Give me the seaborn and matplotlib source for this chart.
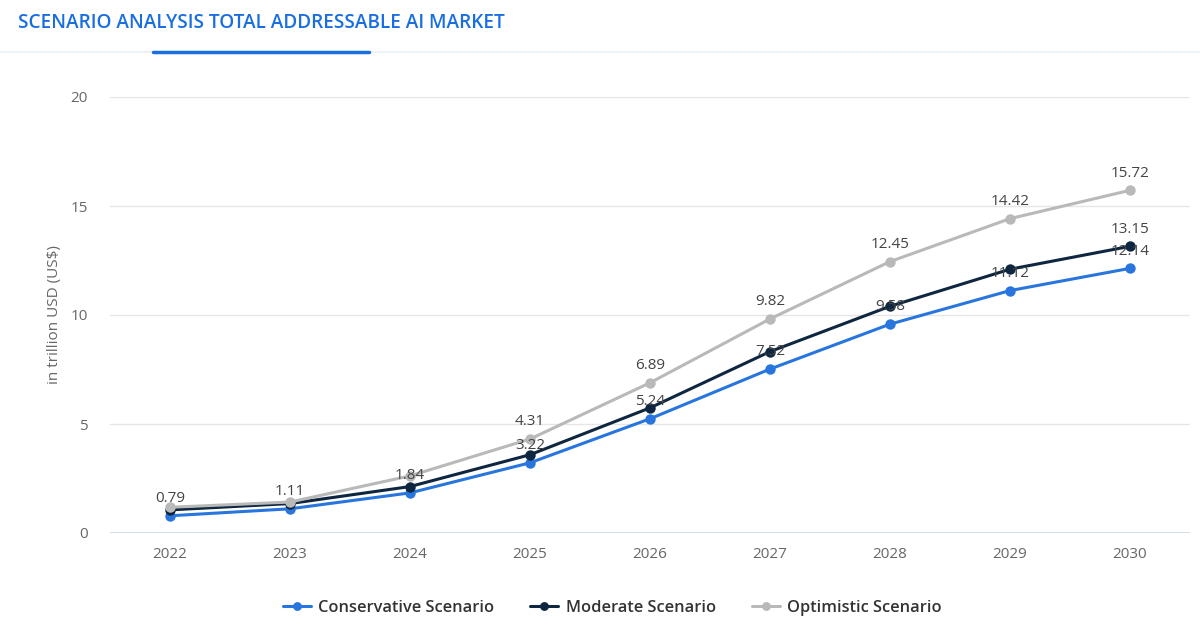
import seaborn as sns
import matplotlib.pyplot as plt
import pandas as pd

# Data
years = [2022, 2023, 2024, 2025, 2026, 2027, 2028, 2029, 2030]
conservative = [0.79, 1.11, 1.84, 3.22, 5.24, 7.52, 9.58, 11.12, 12.14]
moderate = [1.06, 1.35, 2.13, 3.59, 5.74, 8.32, 10.40, 12.10, 13.15]
optimistic = [1.18, 1.42, 2.62, 4.31, 6.89, 9.82, 12.45, 14.42, 15.72]
scenarios = ['Conservative Scenario', 'Moderate Scenario', 'Optimistic Scenario']

# which value labels are visible in the original (others hidden by overlap)
show_cons = [True] * 9
show_mod = [False] * 8 + [True]
show_opt = [False, False, False, True, True, True, True, True, True]

colors = ['#2876dd', '#0f2640', '#b9b9b9']

df = pd.DataFrame({
    'year': years * 3,
    'value': conservative + moderate + optimistic,
    'scenario': [s for s in scenarios for _ in years],
})

sns.set_style("white")
plt.rcParams['font.family'] = ['Open Sans', 'DejaVu Sans']

fig = plt.figure(figsize=(12, 6.37), dpi=100)
ax = fig.add_axes([110 / 1200, 104 / 637, 1080 / 1200, 436 / 637])

sns.lineplot(data=df, x='year', y='value', hue='scenario', palette=colors,
             marker='o', markersize=7.5, markeredgewidth=0, linewidth=2.2,
             ax=ax, legend=True)

# value labels
for vals, show in [(conservative, show_cons), (moderate, show_mod), (optimistic, show_opt)]:
    for x, v, s in zip(years, vals, show):
        if s:
            ax.annotate(f"{v:.2f}", (x, v), xytext=(0, 7), textcoords='offset points',
                        ha='center', va='bottom', fontsize=11, color='#444444')

ax.set_xlim(2021.5, 2030.5)
ax.set_ylim(0, 20)
ax.set_yticks([0, 5, 10, 15, 20])
ax.set_xticks(years)
ax.set_xticklabels([str(y) for y in years])
ax.grid(axis='y', color='#e6e6e6', linewidth=1)
ax.axhline(0, color='#ccd6eb', linewidth=1.2, zorder=1)
for sp in ax.spines.values():
    sp.set_visible(False)
ax.tick_params(axis='both', length=0, labelsize=11, labelcolor='#666666')
ax.tick_params(axis='y', pad=16)
ax.tick_params(axis='x', pad=10)
ax.set_xlabel('')
ax.set_ylabel('in trillion USD (US$)', fontsize=11, color='#666666', labelpad=6)

leg = ax.legend(loc='upper center', bbox_to_anchor=(0.465, -0.12), ncol=3,
                frameon=False, fontsize=11.8, handlelength=1.7, columnspacing=2.2,
                handletextpad=0.45, markerscale=0.85)
for t in leg.get_texts():
    t.set_color('#333333')
    t.set_fontweight('semibold')

# header
fig.text(18 / 1200, 1 - 23 / 637, 'SCENARIO ANALYSIS TOTAL ADDRESSABLE AI MARKET',
         fontsize=13.7, color='#1a6fe0', fontweight='semibold', va='center', ha='left')
fig.add_artist(plt.Line2D([0, 1], [1 - 52 / 637] * 2, color='#eef3f9', linewidth=1.5))
fig.add_artist(plt.Line2D([153 / 1200, 369 / 1200], [1 - 52 / 637] * 2,
                          color='#1a6fe0', linewidth=2.5, solid_capstyle='round'))

plt.savefig('out.png', dpi=100)
